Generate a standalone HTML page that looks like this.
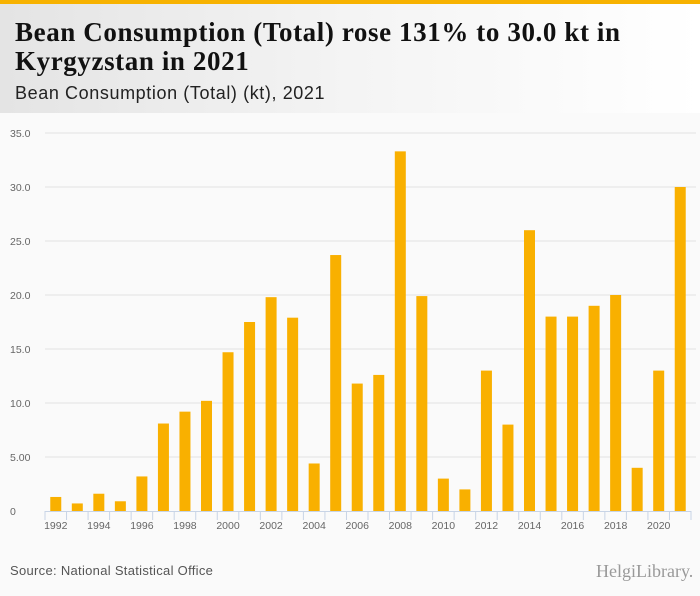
<!DOCTYPE html>
<html><head><meta charset="utf-8"><style>
body{margin:0;width:700px;height:596px;background:#fafafa;font-family:"Liberation Sans",sans-serif;overflow:hidden;position:relative}
#topbar{position:absolute;left:0;top:0;width:700px;height:4px;background:#f7b200}
#header{position:absolute;left:0;top:4px;width:700px;height:109px;background:linear-gradient(90deg,#e4e4e4 0%,#f4f4f4 50%,#ffffff 100%)}
#title{position:absolute;left:15px;top:14px;font-family:"Liberation Serif",serif;font-weight:bold;font-size:27px;line-height:29px;color:#111;letter-spacing:0.6px;white-space:nowrap}
#subtitle{position:absolute;left:15px;top:79px;font-size:18px;color:#222;letter-spacing:0.6px}
#source{position:absolute;left:10px;top:563px;font-size:13px;color:#555;letter-spacing:0.3px}
#logo{position:absolute;left:596px;top:561px;font-family:"Liberation Serif",serif;font-size:18px;color:#999}
</style></head><body>
<div id="topbar"></div>
<div id="header">
<div id="title">Bean Consumption (Total) rose 131% to 30.0 kt in<br>Kyrgyzstan in 2021</div>
<div id="subtitle">Bean Consumption (Total) (kt), 2021</div>
</div>
<svg id="chart" width="700" height="596" style="position:absolute;left:0;top:0"></svg>
<div id="source">Source: National Statistical Office</div>
<div id="logo">HelgiLibrary.</div>
<script>
const years=[1992,1993,1994,1995,1996,1997,1998,1999,2000,2001,2002,2003,2004,2005,2006,2007,2008,2009,2010,2011,2012,2013,2014,2015,2016,2017,2018,2019,2020,2021];
const values=[1.3,0.7,1.6,0.9,3.2,8.1,9.2,10.2,14.7,17.5,19.8,17.9,4.4,23.7,11.8,12.6,33.3,19.9,3.0,2.0,13.0,8.0,26.0,18.0,18.0,19.0,20.0,4.0,13.0,30.0];
const yTicks=[0,5,10,15,20,25,30,35];
const yTickLabels=["0","5.00","10.0","15.0","20.0","25.0","30.0","35.0"];
const NS="http://www.w3.org/2000/svg";
const svg=document.getElementById('chart');
const x0=45,x1=691,y0=511,y1=133,yMax=35;
const step=(x1-x0)/years.length;
const yS=v=>y0-(v/yMax)*(y0-y1);
const xS=i=>x0+step*i;
function mk(t,a){const e=document.createElementNS(NS,t);for(const k in a)e.setAttribute(k,a[k]);svg.appendChild(e);return e;}
yTicks.forEach((t,i)=>{
 if(t>0){const g=mk('line',{x1:x0,x2:x1+5,y1:yS(t),y2:yS(t),stroke:'#e3e3e3','stroke-width':1});
 
 }
 const l=mk('text',{x:10,y:yS(t)+4,'font-size':10.5,fill:'#666','font-family':'Liberation Sans, sans-serif'});
 l.textContent=yTickLabels[i];
 
 
});
values.forEach((v,i)=>{
 const b=mk('rect',{x:xS(i)+step/2-5.5,y:yS(v),width:11,height:y0-yS(v),fill:'#f9b000'});
 
 
});
const ax=mk('line',{x1:x0,x2:x1,y1:y0+0.5,y2:y0+0.5,stroke:'#c8d4e6','stroke-width':1});


for(let i=0;i<=years.length;i++){
 const t=mk('line',{x1:xS(i),x2:xS(i),y1:y0,y2:y0+9,stroke:'#c8d4e6','stroke-width':1});
 
 
}
years.forEach((y,i)=>{
 if(y%2===0){
 const l=mk('text',{x:xS(i)+step/2,y:y0+18,'font-size':10.5,fill:'#666','text-anchor':'middle','font-family':'Liberation Sans, sans-serif'});
 l.textContent=y;
 
 }
});
</script>
</body></html>
